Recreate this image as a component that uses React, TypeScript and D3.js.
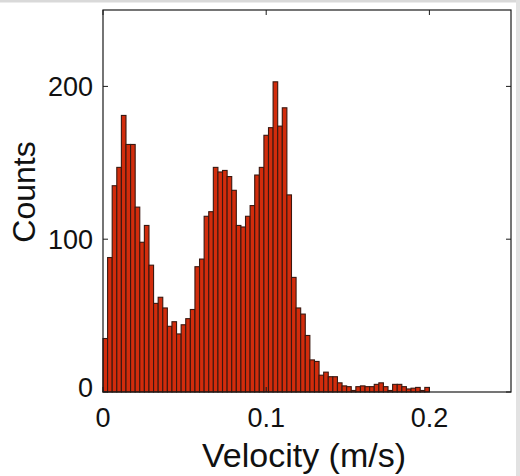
import React from "react";
import * as d3 from "d3";

const counts: number[] = [
  35, 88, 135, 147, 181, 162, 162, 121, 98, 109,
  83, 58, 62, 55, 43, 46, 38, 44, 48, 54,
  82, 87, 115, 118, 147, 144, 145, 141, 132, 109,
  108, 115, 122, 142, 147, 168, 173, 203, 174, 186,
  129, 75, 55, 51, 37, 21, 20, 11, 13, 10,
  10, 6, 4, 3.5, 1, 3.5, 4, 3.5, 3.5, 5,
  6, 3.5, 1, 5, 5, 3.5, 2, 2.5, 3, 1,
  3,
];
const binStart = 0;
const binEnd = 0.2;
const xTicks = [0, 0.1, 0.2];
const yTicks = [0, 100, 200];
const xDomain = [0, 0.25];
const yDomain = [0, 250];

export default function App() {
  const W = 520, H = 476;
  const left = 103, right = 511, top = 10, bottom = 392;
  const x = d3.scaleLinear().domain(xDomain).range([left, right]);
  const y = d3.scaleLinear().domain(yDomain).range([bottom, top]);
  const bw = (binEnd - binStart) / counts.length;
  const font = "'Liberation Sans', Arial, sans-serif";
  const tickLen = 5;
  return (
    <svg width={W} height={H} style={{ position: "absolute", left: 0, top: 0, background: "#fff" }}>
      <rect x={0} y={0} width={W} height={H} fill="#fff" />
      <line x1={0} y1={1} x2={W} y2={1} stroke="#d9d9d9" strokeWidth={3} />
      <line x1={W - 2} y1={0} x2={W - 2} y2={H} stroke="#e2e2e2" strokeWidth={4} />
      <g>
        {counts.map((c, i) => {
          const x0 = x(binStart + i * bw);
          const x1 = x(binStart + (i + 1) * bw);
          return (
            <rect
              key={i}
              x={x0}
              y={y(c)}
              width={x1 - x0}
              height={y(0) - y(c)}
              fill="#d22c0c"
              stroke="#3a1810"
              strokeWidth={1.1}
            />
          );
        })}
      </g>
      <rect x={left} y={top} width={right - left} height={bottom - top} fill="none" stroke="#1a1a1a" strokeWidth={1.2} />
      {xTicks.map((t) => (
        <g key={"x" + t}>
          <line x1={x(t)} x2={x(t)} y1={bottom} y2={bottom - tickLen} stroke="#1a1a1a" />
          <line x1={x(t)} x2={x(t)} y1={top} y2={top + tickLen} stroke="#1a1a1a" />
          <text x={x(t)} y={427} textAnchor="middle" fontFamily={font} fontSize={27} fill="#111">
            {t === 0 ? "0" : d3.format(".1f")(t)}
          </text>
        </g>
      ))}
      {yTicks.map((t) => (
        <g key={"y" + t}>
          <line x1={left} x2={left + tickLen} y1={y(t)} y2={y(t)} stroke="#1a1a1a" />
          <line x1={right} x2={right - tickLen} y1={y(t)} y2={y(t)} stroke="#1a1a1a" />
          <text x={93} y={y(t) - (t === 0 ? 4 : 0)} dy="0.35em" textAnchor="end" fontFamily={font} fontSize={27} fill="#111">
            {t}
          </text>
        </g>
      ))}
      <text x={304} y={467} textAnchor="middle" fontFamily={font} fontSize={34} fill="#111">
        Velocity (m/s)
      </text>
      <text transform="translate(35,192) rotate(-90)" textAnchor="middle" fontFamily={font} fontSize={32} fill="#111">
        Counts
      </text>
    </svg>
  );
}
